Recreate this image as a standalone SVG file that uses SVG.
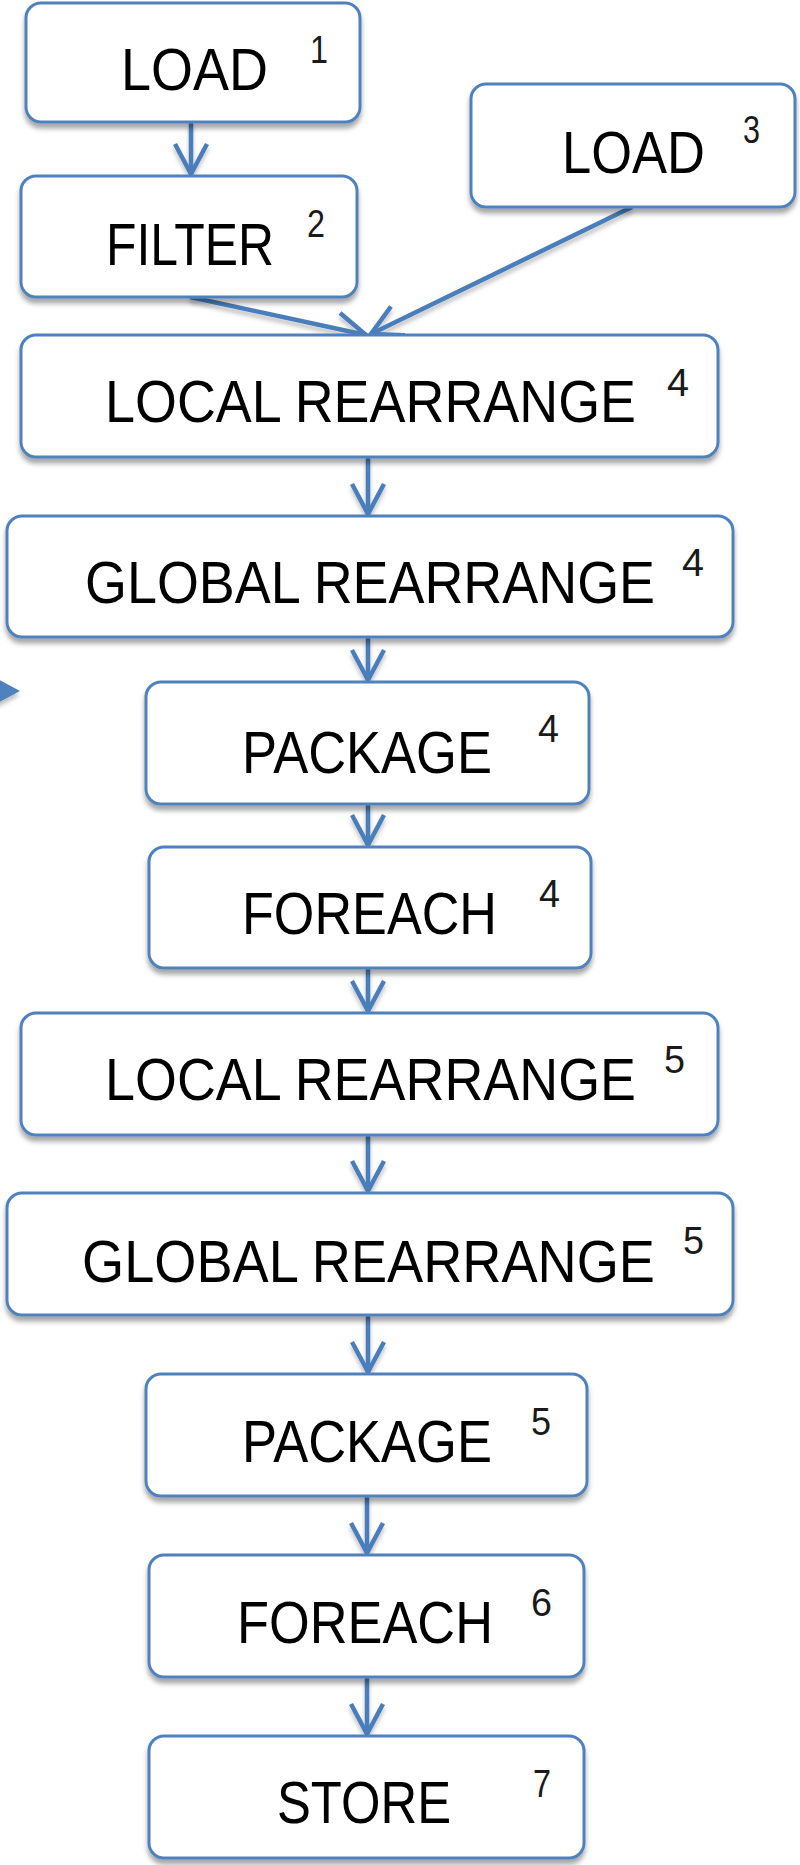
<svg xmlns="http://www.w3.org/2000/svg" width="800" height="1865" viewBox="0 0 800 1865">
<style>
.box{fill:#ffffff;stroke:#4F81BD;stroke-width:3;filter:url(#sh)}
.lbl{font-family:"Liberation Sans",Arial,sans-serif;font-size:54px;fill:#000000}
.sup{font-family:"Liberation Sans",Arial,sans-serif;font-size:39px;fill:#1a1a1a}
.con{fill:none;stroke:#4A7EBB;stroke-width:4.5;marker-end:url(#ah)}
</style>
<defs>
<filter id="sh" x="-5%" y="-10%" width="110%" height="130%">
<feDropShadow dx="0" dy="5" stdDeviation="2.5" flood-color="#000000" flood-opacity="0.35"/>
</filter>
<filter id="lsh" x="-10%" y="-10%" width="120%" height="140%">
<feDropShadow dx="0" dy="4" stdDeviation="2" flood-color="#000000" flood-opacity="0.25"/>
</filter>
<marker id="ah" markerWidth="44" markerHeight="44" refX="38" refY="22" orient="auto" markerUnits="userSpaceOnUse">
<path d="M8 6 L38 22 L8 38" fill="none" stroke="#4A7EBB" stroke-width="4.5"/>
</marker>
</defs>

<g id="connectors" filter="url(#lsh)">
<path class="con" d="M191 122 L191 174"/>
<path class="con" d="M190 297 L366 335"/>
<path class="con" d="M632 207 L371 334"/>
<path class="con" d="M368 457 L368 514"/>
<path class="con" d="M368 637 L368 680"/>
<path class="con" d="M368 804 L368 845"/>
<path class="con" d="M368 968 L368 1011"/>
<path class="con" d="M368 1135 L368 1191"/>
<path class="con" d="M368 1315 L368 1372"/>
<path class="con" d="M367 1496 L367 1553"/>
<path class="con" d="M367 1677 L367 1734"/>
<polygon points="-6,677 20,691 -6,705" fill="#4F81BD" stroke="none"/>
</g>

<g id="n1">
<rect class="box" x="26" y="3" width="334" height="119" rx="15"/>
<text class="lbl" transform="translate(121,90) scale(1,1.11)" textLength="147" lengthAdjust="spacingAndGlyphs">LOAD</text>
<text class="sup" x="310" y="63" textLength="18" lengthAdjust="spacingAndGlyphs">1</text>
</g>
<g id="n2">
<rect class="box" x="21" y="176" width="336" height="121" rx="15"/>
<text class="lbl" transform="translate(106,265) scale(1,1.11)" textLength="168" lengthAdjust="spacingAndGlyphs">FILTER</text>
<text class="sup" x="307" y="237" textLength="18" lengthAdjust="spacingAndGlyphs">2</text>
</g>
<g id="n3">
<rect class="box" x="471" y="84" width="324" height="123" rx="15"/>
<text class="lbl" transform="translate(562,173) scale(1,1.11)" textLength="143" lengthAdjust="spacingAndGlyphs">LOAD</text>
<text class="sup" x="743" y="143" textLength="17" lengthAdjust="spacingAndGlyphs">3</text>
</g>
<g id="n4">
<rect class="box" x="21" y="335" width="697" height="122" rx="15"/>
<text class="lbl" transform="translate(105,422) scale(1,1.11)" textLength="531" lengthAdjust="spacingAndGlyphs">LOCAL REARRANGE</text>
<text class="sup" x="667" y="396" textLength="22" lengthAdjust="spacingAndGlyphs">4</text>
</g>
<g id="n5">
<rect class="box" x="7" y="516" width="726" height="121" rx="15"/>
<text class="lbl" transform="translate(85,603) scale(1,1.11)" textLength="570" lengthAdjust="spacingAndGlyphs">GLOBAL REARRANGE</text>
<text class="sup" x="682" y="576" textLength="22" lengthAdjust="spacingAndGlyphs">4</text>
</g>
<g id="n6">
<rect class="box" x="146" y="682" width="443" height="122" rx="15"/>
<text class="lbl" transform="translate(242,773) scale(1,1.11)" textLength="250" lengthAdjust="spacingAndGlyphs">PACKAGE</text>
<text class="sup" x="538" y="742" textLength="21" lengthAdjust="spacingAndGlyphs">4</text>
</g>
<g id="n7">
<rect class="box" x="149" y="847" width="442" height="121" rx="15"/>
<text class="lbl" transform="translate(242,934) scale(1,1.11)" textLength="255" lengthAdjust="spacingAndGlyphs">FOREACH</text>
<text class="sup" x="539" y="907" textLength="21" lengthAdjust="spacingAndGlyphs">4</text>
</g>
<g id="n8">
<rect class="box" x="21" y="1013" width="697" height="122" rx="15"/>
<text class="lbl" transform="translate(105,1100) scale(1,1.11)" textLength="531" lengthAdjust="spacingAndGlyphs">LOCAL REARRANGE</text>
<text class="sup" x="664" y="1073" textLength="21" lengthAdjust="spacingAndGlyphs">5</text>
</g>
<g id="n9">
<rect class="box" x="7" y="1193" width="726" height="122" rx="15"/>
<text class="lbl" transform="translate(82,1282) scale(1,1.11)" textLength="573" lengthAdjust="spacingAndGlyphs">GLOBAL REARRANGE</text>
<text class="sup" x="683" y="1254" textLength="21" lengthAdjust="spacingAndGlyphs">5</text>
</g>
<g id="n10">
<rect class="box" x="146" y="1374" width="441" height="122" rx="15"/>
<text class="lbl" transform="translate(242,1462) scale(1,1.11)" textLength="250" lengthAdjust="spacingAndGlyphs">PACKAGE</text>
<text class="sup" x="531" y="1435" textLength="20" lengthAdjust="spacingAndGlyphs">5</text>
</g>
<g id="n11">
<rect class="box" x="149" y="1555" width="435" height="122" rx="15"/>
<text class="lbl" transform="translate(237,1643) scale(1,1.11)" textLength="256" lengthAdjust="spacingAndGlyphs">FOREACH</text>
<text class="sup" x="531" y="1616" textLength="21" lengthAdjust="spacingAndGlyphs">6</text>
</g>
<g id="n12">
<rect class="box" x="149" y="1736" width="435" height="122" rx="15"/>
<text class="lbl" transform="translate(277,1823) scale(1,1.11)" textLength="174" lengthAdjust="spacingAndGlyphs">STORE</text>
<text class="sup" x="533" y="1797" textLength="18" lengthAdjust="spacingAndGlyphs">7</text>
</g>
</svg>
